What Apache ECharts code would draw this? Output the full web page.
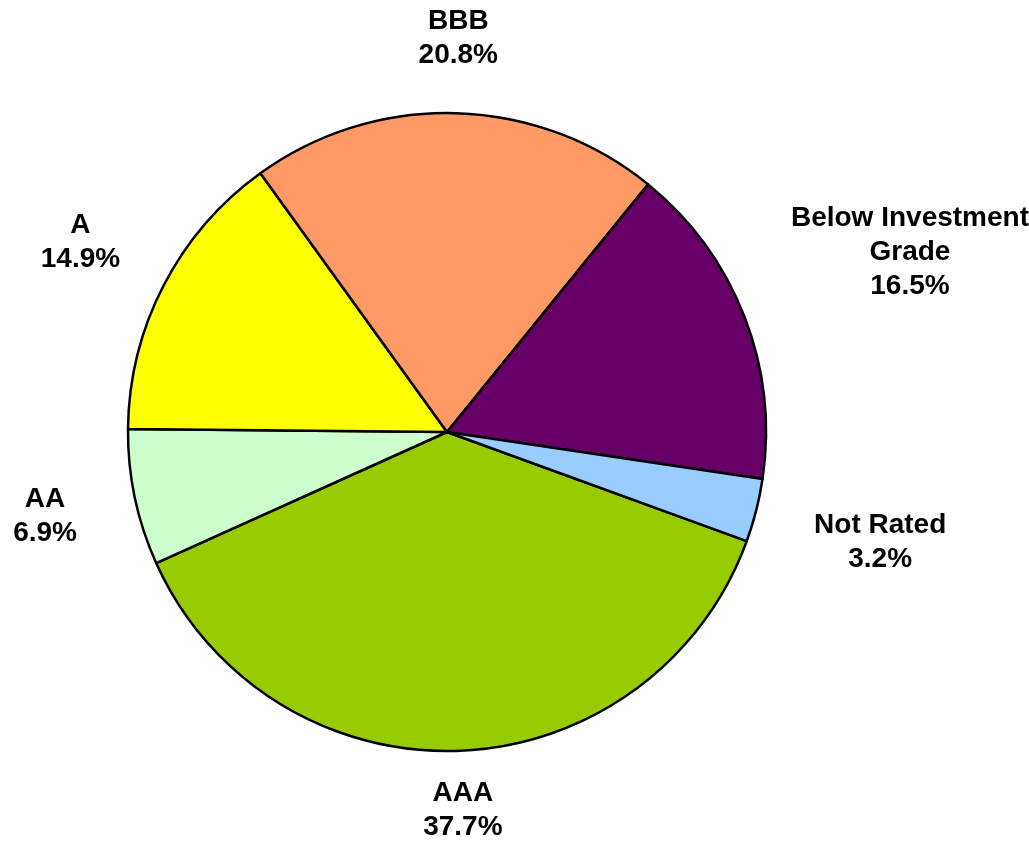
<!DOCTYPE html>
<html>
<head>
<meta charset="utf-8">
<script src="https://cdn.jsdelivr.net/npm/echarts@6/dist/echarts.min.js"></script>
<style>
  html, body { margin: 0; padding: 0; background: #fff; }
  #chart { width: 1029px; height: 842px; }
</style>
</head>
<body>
<div id="chart"></div>
<script>
// slice data, clockwise from the AAA slice
var categories = ['AAA', 'AA', 'A', 'BBB', 'Below Investment\nGrade', 'Not Rated'];
var shares = [37.7, 6.9, 14.9, 20.8, 16.5, 3.2];
var colors = ['#99CC00', '#CCFFCC', '#FFFF00', '#FF9966', '#660066', '#99CCFF'];

var W = 1029, H = 842;
var center = [447, 432];
var radius = 319;
var startCompass = 110; // degrees clockwise from 12 o'clock
var labelGap = 56;
var labelDrop = 15;

var total = shares.reduce(function (a, b) { return a + b; }, 0);

// mid angle of each slice, clockwise from 12 o'clock
function midAngle(i) {
  var before = 0;
  for (var k = 0; k < i; k++) before += shares[k];
  return startCompass + (before + shares[i] / 2) / total * 360;
}

var chart = echarts.init(document.getElementById('chart'));
chart.setOption({
  backgroundColor: '#fff',
  animation: false,
  series: [
    {
      type: 'pie',
      center: center,
      radius: radius,
      startAngle: 90 - startCompass,
      clockwise: true,
      avoidLabelOverlap: false,
      itemStyle: {
        borderColor: '#000',
        borderWidth: 2.5
      },
      label: {
        show: true,
        position: 'outside',
        formatter: function (p) {
          return p.name + '\n' + p.value.toFixed(1) + '%';
        },
        color: '#000',
        fontFamily: 'Liberation Sans, Arial, sans-serif',
        fontWeight: 'bold',
        fontSize: 28,
        lineHeight: 34
      },
      labelLine: { show: false },
      emphasis: { disabled: true },
      // put each label outside its slice, on the mid-angle ray
      labelLayout: function (params) {
        var a = midAngle(params.dataIndex) * Math.PI / 180;
        var ux = Math.sin(a), uy = -Math.cos(a);
        var w = params.labelRect.width, h = params.labelRect.height;
        var toEdge = Math.min(
          Math.abs(ux) > 1e-6 ? w / 2 / Math.abs(ux) : 1e9,
          Math.abs(uy) > 1e-6 ? h / 2 / Math.abs(uy) : 1e9
        );
        var d = radius + labelGap + toEdge + labelDrop * uy;
        var x = center[0] + ux * d;
        var y = center[1] + uy * d;
        x = Math.max(w / 2, Math.min(W - w / 2, x));
        y = Math.max(h / 2 - 2, Math.min(H - h / 2 + 2, y));
        return { x: x, y: y, align: 'center', verticalAlign: 'middle' };
      },
      data: categories.map(function (name, i) {
        return { name: name, value: shares[i], itemStyle: { color: colors[i] } };
      })
    }
  ]
});
</script>
</body>
</html>
